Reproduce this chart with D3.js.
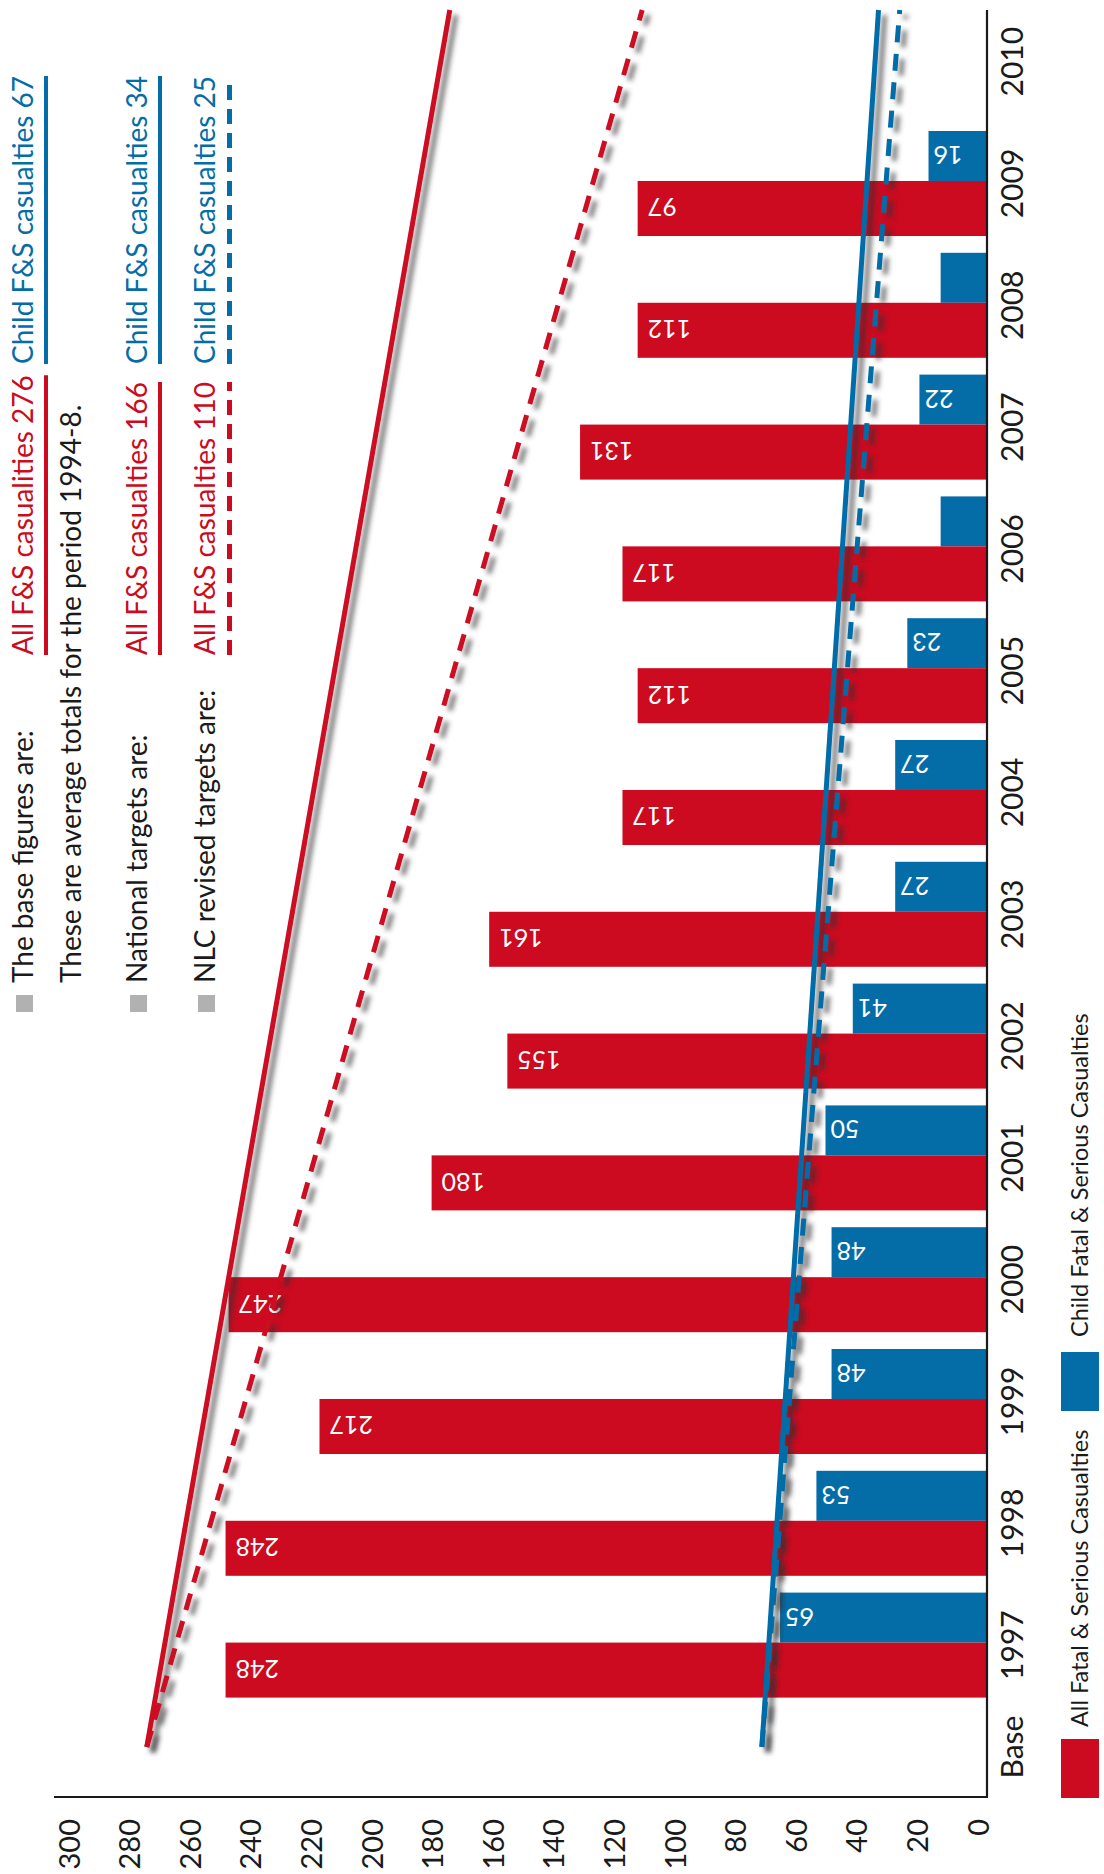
<!DOCTYPE html>
<html>
<head>
<meta charset="utf-8">
<script src="https://cdn.jsdelivr.net/npm/d3@7"></script>
<style>
  body { margin: 0; background: #fff; }
  svg { display: block; }
  text { font-family: Lato, "Open Sans", sans-serif; }
</style>
</head>
<body>
<div id="main"></div>
<script>
// categories (bottom to top once the chart is turned on its side)
var years = ["1997","1998","1999","2000","2001","2002","2003","2004","2005","2006","2007","2008","2009","2010"];

// All fatal & serious casualties, 1997-2009 (as drawn) and the printed labels
var allFS       = [248, 248, 217, 247, 180, 155, 161, 117, 112, 117, 131, 112, 112];
var allLabels   = ["248","248","217","247","180","155","161","117","112","117","131","112","97"];
// Child fatal & serious casualties
var childFS     = [65, 53, 48, 48, 50, 41, 27, 27, 23, 12, 19, 12, 16];
var childLabels = ["65","53","48","48","50","41","27","27","23","","22","","16"];

var valueTicks = [0, 20, 40, 60, 80, 100, 120, 140, 160, 180, 200, 220, 240, 260, 280, 300];

// target lines: value at Base and value at the end of the period
var targetLines = [
  {name: "all national", from: 274, to: 174, color: "#cc0a20", dashed: false},
  {name: "all nlc",      from: 274, to: 110.5, color: "#cc0a20", dashed: true},
  {name: "child national", from: 71, to: 32.5, color: "#046da8", dashed: false},
  {name: "child nlc",      from: 71, to: 25.5, color: "#046da8", dashed: true}
];

var RED = "#cc0a20", BLUE = "#046da8", GREY = "#b1b1b1", INK = "#1a1a1a";

var svg = d3.select("#main").append("svg")
    .attr("width", 1104)
    .attr("height", 1874);

var defs = svg.append("defs");
defs.append("filter")
    .attr("id", "shadow")
    .attr("filterUnits", "userSpaceOnUse")
    .attr("x", 0).attr("y", 0).attr("width", 1104).attr("height", 1874)
  .append("feDropShadow")
    .attr("dx", 6).attr("dy", 5)
    .attr("stdDeviation", 2.6)
    .attr("flood-color", "#333")
    .attr("flood-opacity", 0.65);

var axisX = 987, axisY = 1797;

// value scale runs right to left
var x = d3.scaleLinear().domain([0, 300]).range([977, 68]);

// year bands, 2010 at the top
var y = d3.scaleBand()
    .domain(years.slice().reverse())
    .range([0.8, 1706])
    .paddingInner(0.138)
    .paddingOuter(0.069);

var childPart = 0.476; // share of the band taken by the child bar
var baseY = y.range()[1] + 41;
var linePos = d3.scaleLinear().domain([0, 1]).range([baseY, 10]);

var barData = years.slice(0, allFS.length).map(function(yr, i) {
  return {year: yr, all: allFS[i], allLabel: allLabels[i], child: childFS[i], childLabel: childLabels[i]};
});

// bars
var g = svg.append("g");
g.selectAll(".bar-child").data(barData).enter().append("rect")
    .attr("x", function(d) { return x(d.child); })
    .attr("y", function(d) { return y(d.year); })
    .attr("width", function(d) { return axisX - x(d.child); })
    .attr("height", y.bandwidth() * childPart)
    .attr("fill", BLUE);

g.selectAll(".bar-all").data(barData).enter().append("rect")
    .attr("x", function(d) { return x(d.all); })
    .attr("y", function(d) { return y(d.year) + y.bandwidth() * childPart; })
    .attr("width", function(d) { return axisX - x(d.all); })
    .attr("height", y.bandwidth() * (1 - childPart))
    .attr("fill", RED);

// bar labels, upside down
g.selectAll(".lab-child").data(barData).enter().append("text")
    .attr("transform", function(d) {
      return "translate(" + (x(d.child) + 5) + "," + (y(d.year) + y.bandwidth() * childPart / 2) + ") rotate(180)";
    })
    .attr("text-anchor", "end")
    .attr("dominant-baseline", "central")
    .attr("font-size", 25)
    .attr("fill", "#fff")
    .text(function(d) { return d.childLabel; });

g.selectAll(".lab-all").data(barData).enter().append("text")
    .attr("transform", function(d) {
      return "translate(" + (x(d.all) + 10) + "," + (y(d.year) + y.bandwidth() * (1 + childPart) / 2) + ") rotate(180)";
    })
    .attr("text-anchor", "end")
    .attr("dominant-baseline", "central")
    .attr("font-size", 25)
    .attr("fill", "#fff")
    .text(function(d) { return d.allLabel; });

// target lines with drop shadow
var line = d3.line()
    .x(function(d) { return x(d.v); })
    .y(function(d) { return linePos(d.t); });

svg.append("g").selectAll("path").data(targetLines).enter().append("path")
    .attr("d", function(d) { return line([{t: 0, v: d.from}, {t: 1, v: d.to}]); })
    .attr("fill", "none")
    .attr("stroke", function(d) { return d.color; })
    .attr("stroke-width", 5)
    .attr("stroke-dasharray", function(d) { return d.dashed ? "17,11.5" : null; })
    .attr("filter", "url(#shadow)");

// axes
svg.append("line")
    .attr("x1", 54).attr("x2", axisX + 1)
    .attr("y1", axisY).attr("y2", axisY)
    .attr("stroke", INK).attr("stroke-width", 2.2);
svg.append("line")
    .attr("x1", axisX).attr("x2", axisX)
    .attr("y1", 10).attr("y2", axisY)
    .attr("stroke", INK).attr("stroke-width", 2.2);

// value tick labels
svg.append("g").selectAll("text").data(valueTicks).enter().append("text")
    .attr("transform", function(d) { return "translate(" + x(d) + ",1819) rotate(-90)"; })
    .attr("text-anchor", "end")
    .attr("dominant-baseline", "central")
    .attr("font-size", 29)
    .attr("fill", INK)
    .text(function(d) { return d; });

// category labels
svg.append("g").selectAll("text").data(years).enter().append("text")
    .attr("transform", function(d) { return "translate(1023," + (y(d) + y.bandwidth() / 2) + ") rotate(-90)"; })
    .attr("text-anchor", "middle")
    .attr("font-size", 30)
    .attr("fill", INK)
    .text(function(d) { return d; });
svg.append("text")
    .attr("transform", "translate(1023," + baseY + ") rotate(-90)")
    .attr("text-anchor", "middle")
    .attr("font-size", 30)
    .attr("fill", INK)
    .text("Base");

// right legend
var legendItems = [
  {label: "All Fatal & Serious Casualties", color: RED, swatchTop: 1739, textStart: 1727},
  {label: "Child Fatal & Serious Casualties", color: BLUE, swatchTop: 1352, textStart: 1337}
];
var lg = svg.append("g");
lg.selectAll("rect").data(legendItems).enter().append("rect")
    .attr("x", 1061).attr("y", function(d) { return d.swatchTop; })
    .attr("width", 38).attr("height", 59)
    .attr("fill", function(d) { return d.color; });
lg.selectAll("text").data(legendItems).enter().append("text")
    .attr("transform", function(d) { return "translate(1088," + d.textStart + ") rotate(-90)"; })
    .attr("font-size", 23.5)
    .attr("fill", INK)
    .text(function(d) { return d.label; });

// top-left key
var keyCols = [
  {head: "The base figures are:", x: 33, all: "All F&S casualities 276", child: "Child F&S casualties 67", rule: 46, dashed: false},
  {head: "National targets are:", x: 147, all: "All F&S casualties 166", child: "Child F&S casualties 34", rule: 160, dashed: false},
  {head: "NLC revised targets are:", x: 215, all: "All F&S casualties 110", child: "Child F&S casualties 25", rule: 229.5, dashed: true}
];
var key = svg.append("g").attr("font-size", 28);

keyCols.forEach(function(c) {
  key.append("rect")
      .attr("x", c.x - 17).attr("y", 995)
      .attr("width", 17).attr("height", 17)
      .attr("fill", GREY);
  key.append("text")
      .attr("transform", "translate(" + c.x + ",983) rotate(-90)")
      .attr("fill", INK)
      .text(c.head);

  [{t: c.all, color: RED, start: 655}, {t: c.child, color: BLUE, start: 364}].forEach(function(s) {
    var t = key.append("text")
        .attr("transform", "translate(" + c.x + "," + s.start + ") rotate(-90)")
        .attr("fill", s.color)
        .text(s.t);
    var len = t.node().getComputedTextLength();
    key.append("line")
        .attr("x1", c.rule).attr("x2", c.rule)
        .attr("y1", s.start).attr("y2", s.start - len)
        .attr("stroke", s.color)
        .attr("stroke-width", c.dashed ? 5 : 4)
        .attr("stroke-dasharray", c.dashed ? "15,9" : null);
  });
});

key.append("text")
    .attr("transform", "translate(81,983) rotate(-90)")
    .attr("fill", INK)
    .text("These are average totals for the period 1994-8.");
</script>
</body>
</html>
